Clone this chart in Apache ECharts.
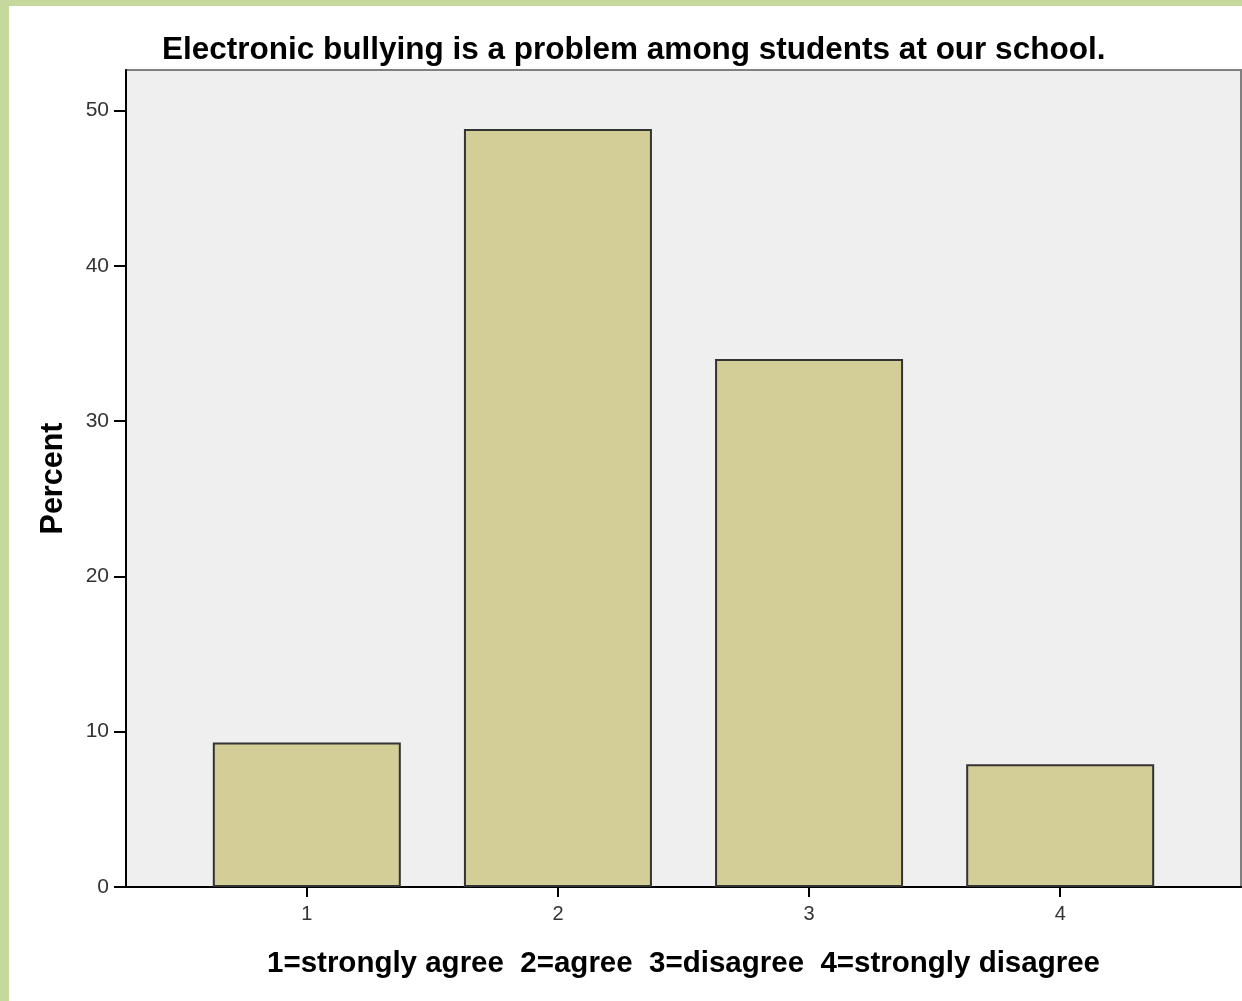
<!DOCTYPE html>
<html>
<head>
<meta charset="utf-8">
<script src="https://cdn.jsdelivr.net/npm/echarts@6/dist/echarts.min.js"></script>
<style>
html,body{margin:0;padding:0;background:#fff;}
#chart{width:1242px;height:1001px;}
</style>
</head>
<body>
<div id="chart"></div>
<script>
const chartTitle = 'Electronic bullying is a problem among students at our school.';
const categories = [1, 2, 3, 4];
const percentValues = [9.3, 48.8, 34.0, 7.9];
const yTickValues = [0, 10, 20, 30, 40, 50];
const xAxisTitle = '1=strongly agree  2=agree  3=disagree  4=strongly disagree';
const yAxisTitle = 'Percent';

const chart = echarts.init(document.getElementById('chart'), null, {renderer: 'canvas'});
const font = '"Liberation Sans", Arial, sans-serif';
chart.setOption({
  backgroundColor: '#ffffff',
  animation: false,
  title: {
    text: chartTitle,
    left: 157,
    top: 29,
    textStyle: {fontFamily: font, fontSize: 31.5, fontWeight: 'bold', color: '#000'}
  },
  graphic: [
    {type: 'rect', left: 0, top: 0, shape: {width: 1242, height: 6}, style: {fill: '#c6d89c'}, z: 100},
    {type: 'rect', left: 0, top: 0, shape: {width: 9, height: 1001}, style: {fill: '#c6d89c'}, z: 100}
  ],
  grid: {
    left: 126, right: 1, top: 70, bottom: 114,
    show: true, backgroundColor: '#efefef', borderColor: '#808080', borderWidth: 2
  },
  xAxis: {
    type: 'value',
    min: 0.28, max: 4.72,
    name: xAxisTitle,
    nameLocation: 'middle',
    nameGap: 62,
    nameTextStyle: {fontFamily: font, fontSize: 29.5, fontWeight: 'bold', color: '#000'},
    axisLine: {show: true, onZero: false, lineStyle: {color: '#000', width: 2}},
    axisTick: {show: true, length: 10, customValues: categories, lineStyle: {color: '#000', width: 2}},
    axisLabel: {customValues: categories, margin: 17, fontFamily: font, fontSize: 20, color: '#333'},
    splitLine: {show: false}
  },
  yAxis: {
    type: 'value',
    min: 0, max: 52.6,
    name: yAxisTitle,
    nameLocation: 'middle',
    nameGap: 57,
    nameRotate: 90,
    nameTextStyle: {fontFamily: font, fontSize: 30.5, fontWeight: 'bold', color: '#000'},
    axisLine: {show: true, lineStyle: {color: '#000', width: 2}},
    axisTick: {show: true, length: 12, customValues: yTickValues, lineStyle: {color: '#000', width: 2}},
    axisLabel: {customValues: yTickValues, margin: 17, fontFamily: font, fontSize: 21, color: '#333'},
    splitLine: {show: false}
  },
  series: [{
    type: 'bar',
    data: categories.map((c, i) => [c, percentValues[i]]),
    barWidth: 188,
    itemStyle: {color: '#d3ce98', borderColor: '#333', borderWidth: 2}
  }]
});
</script>
</body>
</html>
